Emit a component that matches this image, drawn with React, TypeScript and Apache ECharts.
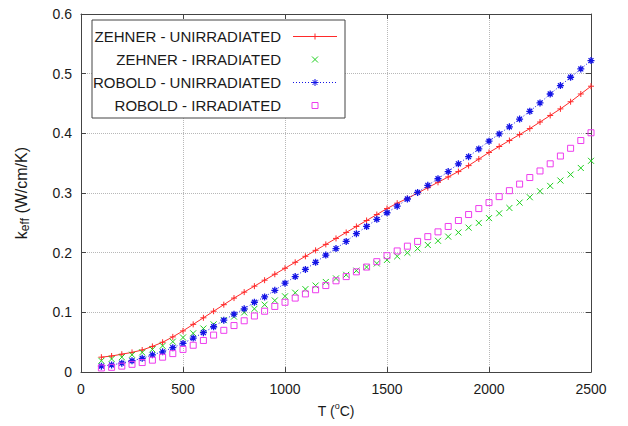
import React, { useEffect, useRef } from 'react';
import * as echarts from 'echarts';

const temperatures = [
  100, 150, 200, 250, 300, 350, 400, 450, 500, 550, 600, 650, 700, 750, 800, 850, 900, 950,
  1000, 1050, 1100, 1150, 1200, 1250, 1300, 1350, 1400, 1450, 1500, 1550, 1600, 1650, 1700,
  1750, 1800, 1850, 1900, 1950, 2000, 2050, 2100, 2150, 2200, 2250, 2300, 2350, 2400, 2450, 2500,
];

const zehnerUnirradiated = [
  0.025, 0.027, 0.030, 0.033, 0.037, 0.043, 0.050, 0.059, 0.069, 0.080, 0.091, 0.102, 0.113,
  0.124, 0.134, 0.144, 0.154, 0.164, 0.174, 0.184, 0.194, 0.204, 0.214, 0.224, 0.234, 0.244,
  0.254, 0.264, 0.274, 0.283, 0.291, 0.300, 0.309, 0.318, 0.327, 0.336, 0.346, 0.357, 0.368,
  0.378, 0.388, 0.398, 0.408, 0.419, 0.430, 0.441, 0.453, 0.466, 0.479,
];

const zehnerIrradiated = [
  0.019, 0.022, 0.025, 0.029, 0.033, 0.038, 0.044, 0.051, 0.058, 0.065, 0.073, 0.080, 0.087,
  0.093, 0.100, 0.106, 0.113, 0.120, 0.127, 0.133, 0.139, 0.145, 0.151, 0.157, 0.163, 0.170,
  0.176, 0.182, 0.188, 0.194, 0.200, 0.207, 0.213, 0.220, 0.227, 0.234, 0.242, 0.250, 0.258,
  0.266, 0.275, 0.284, 0.293, 0.303, 0.312, 0.321, 0.331, 0.342, 0.354,
];

const roboldUnirradiated = [
  0.010, 0.012, 0.015, 0.019, 0.023, 0.029, 0.034, 0.041, 0.048, 0.057, 0.066, 0.076, 0.087,
  0.097, 0.106, 0.117, 0.126, 0.137, 0.149, 0.160, 0.172, 0.184, 0.196, 0.207, 0.219, 0.232,
  0.244, 0.256, 0.267, 0.278, 0.290, 0.301, 0.313, 0.324, 0.336, 0.349, 0.361, 0.374, 0.387,
  0.399, 0.411, 0.424, 0.437, 0.451, 0.466, 0.480, 0.494, 0.508, 0.522,
];

const roboldIrradiated = [
  0.007, 0.008, 0.010, 0.013, 0.016, 0.020, 0.025, 0.031, 0.038, 0.045, 0.053, 0.062, 0.070,
  0.078, 0.086, 0.094, 0.102, 0.110, 0.117, 0.124, 0.131, 0.138, 0.145, 0.153, 0.160, 0.168,
  0.176, 0.185, 0.195, 0.203, 0.211, 0.219, 0.227, 0.235, 0.244, 0.254, 0.264, 0.274, 0.284,
  0.294, 0.304, 0.315, 0.326, 0.337, 0.349, 0.362, 0.375, 0.388, 0.401,
];

const seriesNames = [
  'ZEHNER - UNIRRADIATED',
  'ZEHNER - IRRADIATED',
  'ROBOLD - UNIRRADIATED',
  'ROBOLD - IRRADIATED',
];

const xAxisTitle = 'T ({sup|o}C)';
const yAxisTitle = 'k{sub|eff} (W/cm/K)';

const FONT = '"Liberation Sans", Arial, Helvetica, sans-serif';
const RED = '#ff2a2a';
const GREEN = '#1fd01f';
const BLUE = '#1414e6';
const MAGENTA = '#ee3cee';
const AXIS = '#444';
const TEXT = '#1a1a1a';

const PLUS = 'path://M5 0L5 10M0 5L10 5';
const CROSS = 'path://M0 0L10 10M10 0L0 10';
const STAR = 'path://M5 0L5 10M0 5L10 5M1.5 1.5L8.5 8.5M8.5 1.5L1.5 8.5';
const SQUARE = 'path://M0 0L10 0L10 10L0 10Z';

const pairs = (ys: number[]) => temperatures.map((t, i) => [t, ys[i]]);

type Kind = 'plus' | 'cross' | 'star' | 'square';

function markerGraphic(kind: Kind, cx: number, cy: number, color: string, r: number): any[] {
  const st = { stroke: color, lineWidth: 1, fill: 'none' };
  const ln = (x1: number, y1: number, x2: number, y2: number) => ({
    type: 'line', z: 20, shape: { x1, y1, x2, y2 }, style: st,
  });
  if (kind === 'plus') return [ln(cx - r, cy, cx + r, cy), ln(cx, cy - r, cx, cy + r)];
  if (kind === 'cross') return [ln(cx - r, cy - r, cx + r, cy + r), ln(cx + r, cy - r, cx - r, cy + r)];
  if (kind === 'star')
    return [
      ln(cx - r, cy, cx + r, cy),
      ln(cx, cy - r, cx, cy + r),
      ln(cx - r * 0.7, cy - r * 0.7, cx + r * 0.7, cy + r * 0.7),
      ln(cx + r * 0.7, cy - r * 0.7, cx - r * 0.7, cy + r * 0.7),
    ];
  return [{ type: 'rect', z: 20, shape: { x: cx - r, y: cy - r, width: 2 * r, height: 2 * r }, style: st }];
}

export default function App() {
  const ref = useRef<HTMLDivElement>(null);

  useEffect(() => {
    if (!ref.current) return;
    const chart = echarts.init(ref.current, undefined, { renderer: 'svg' });

    const legendRows = [
      { name: seriesNames[0], color: RED, kind: 'plus' as Kind, line: 'solid', r: 3 },
      { name: seriesNames[1], color: GREEN, kind: 'cross' as Kind, line: '', r: 3 },
      { name: seriesNames[2], color: BLUE, kind: 'star' as Kind, line: 'dotted', r: 3.5 },
      { name: seriesNames[3], color: MAGENTA, kind: 'square' as Kind, line: '', r: 3 },
    ];
    const legendX = 92;
    const legendY = 20;
    const rowY0 = 36.5;
    const rowGap = 23;
    const graphics: any[] = [
      {
        type: 'rect',
        z: 15,
        shape: { x: legendX, y: legendY, width: 253, height: 98 },
        style: { fill: '#ffffff', stroke: AXIS, lineWidth: 1 },
      },
    ];
    legendRows.forEach((row, i) => {
      const y = rowY0 + i * rowGap;
      graphics.push({
        type: 'text',
        z: 20,
        style: {
          text: row.name,
          x: 281,
          y,
          align: 'right',
          verticalAlign: 'middle',
          fontSize: 15,
          fontFamily: FONT,
          fill: TEXT,
        },
      });
      if (row.line) {
        graphics.push({
          type: 'line',
          z: 20,
          shape: { x1: 293, y1: y, x2: 337, y2: y },
          style: {
            stroke: row.color,
            lineWidth: 1,
            lineDash: row.line === 'dotted' ? [1, 2] : null,
          },
        });
      }
      graphics.push(...markerGraphic(row.kind, 315, y, row.color, row.r));
    });

    const baseAxisLine = { show: true, onZero: false, lineStyle: { color: AXIS, width: 1 } };
    const baseTick = { show: true, inside: true, length: 5, lineStyle: { color: AXIS, width: 1 } };
    const grid = { type: 'dotted', color: '#b8b8b8', width: 1 };

    const option: any = {
      animation: false,
      backgroundColor: '#ffffff',
      grid: { left: 81, right: 37, top: 14, bottom: 51 },
      xAxis: [
        {
          type: 'value',
          min: 0,
          max: 2500,
          interval: 500,
          position: 'bottom',
          axisLine: baseAxisLine,
          axisTick: baseTick,
          axisLabel: {
            color: TEXT,
            fontSize: 14,
            fontFamily: FONT,
            margin: 10,
            formatter: (v: number) => String(v),
          },
          splitLine: { show: true, lineStyle: grid },
          name: xAxisTitle,
          nameLocation: 'middle',
          nameGap: 25,
          nameTextStyle: {
            color: TEXT,
            fontSize: 14,
            fontFamily: FONT,
            lineHeight: 20,
            rich: { sup: { fontSize: 9, lineHeight: 10, verticalAlign: 'top', fontFamily: FONT, color: TEXT } },
          },
        },
        {
          type: 'value',
          min: 0,
          max: 2500,
          interval: 500,
          position: 'top',
          axisLine: baseAxisLine,
          axisTick: baseTick,
          axisLabel: { show: false },
          splitLine: { show: false },
        },
      ],
      yAxis: [
        {
          type: 'value',
          min: 0,
          max: 0.6,
          interval: 0.1,
          position: 'left',
          axisLine: baseAxisLine,
          axisTick: baseTick,
          axisLabel: { color: TEXT, fontSize: 14, fontFamily: FONT, margin: 9 },
          splitLine: { show: true, lineStyle: grid },
          name: yAxisTitle,
          nameLocation: 'middle',
          nameGap: 50,
          nameRotate: 90,
          nameTextStyle: {
            color: TEXT,
            fontSize: 16,
            fontFamily: FONT,
            lineHeight: 20,
            rich: { sub: { fontSize: 12, lineHeight: 12, verticalAlign: 'bottom', fontFamily: FONT, color: TEXT } },
          },
        },
        {
          type: 'value',
          min: 0,
          max: 0.6,
          interval: 0.1,
          position: 'right',
          axisLine: baseAxisLine,
          axisTick: baseTick,
          axisLabel: { show: false },
          splitLine: { show: false },
        },
      ],
      series: [
        {
          name: seriesNames[0],
          type: 'line',
          xAxisIndex: 0,
          yAxisIndex: 0,
          data: pairs(zehnerUnirradiated),
          symbol: PLUS,
          symbolSize: 6,
          lineStyle: { color: RED, width: 1 },
          itemStyle: { color: RED, borderColor: RED, borderWidth: 1 },
          z: 3,
        },
        {
          name: seriesNames[1],
          type: 'scatter',
          xAxisIndex: 0,
          yAxisIndex: 0,
          data: pairs(zehnerIrradiated),
          symbol: CROSS,
          symbolSize: 6,
          itemStyle: { color: 'rgba(0,0,0,0)', borderColor: GREEN, borderWidth: 1, opacity: 1 },
          z: 4,
        },
        {
          name: seriesNames[2],
          type: 'line',
          xAxisIndex: 0,
          yAxisIndex: 0,
          data: pairs(roboldUnirradiated),
          symbol: STAR,
          symbolSize: 7,
          lineStyle: { color: BLUE, width: 1, type: [1, 2] },
          itemStyle: { color: BLUE, borderColor: BLUE, borderWidth: 1.3 },
          z: 5,
        },
        {
          name: seriesNames[3],
          type: 'scatter',
          xAxisIndex: 0,
          yAxisIndex: 0,
          data: pairs(roboldIrradiated),
          symbol: SQUARE,
          symbolSize: 6,
          itemStyle: { color: 'rgba(0,0,0,0)', borderColor: MAGENTA, borderWidth: 1, opacity: 1 },
          z: 6,
        },
      ],
      graphic: graphics,
    };

    chart.setOption(option);
    return () => chart.dispose();
  }, []);

  return (
    <div
      ref={ref}
      style={{ position: 'absolute', left: 0, top: 0, width: 628, height: 426 }}
    />
  );
}
